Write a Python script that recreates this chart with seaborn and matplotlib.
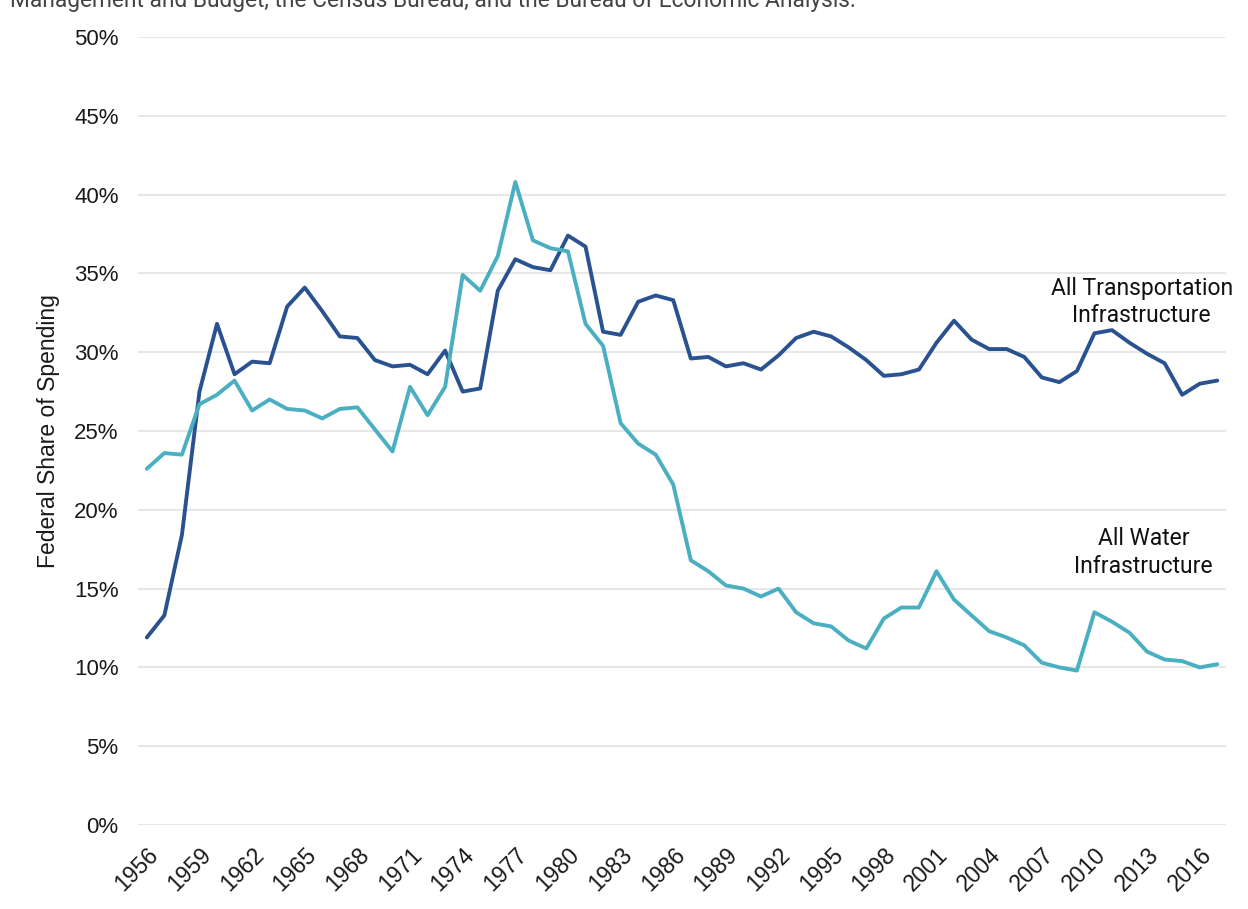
import pandas as pd
import matplotlib.pyplot as plt
import seaborn as sns

# Federal share of infrastructure spending, 1956-2017 (percent)
years = list(range(1956, 2018))
transport = [11.9, 13.3, 18.4, 27.5, 31.8, 28.6, 29.4, 29.3, 32.9, 34.1,
             32.6, 31.0, 30.9, 29.5, 29.1, 29.2, 28.6, 30.1, 27.5, 27.7,
             33.9, 35.9, 35.4, 35.2, 37.4, 36.7, 31.3, 31.1, 33.2, 33.6,
             33.3, 29.6, 29.7, 29.1, 29.3, 28.9, 29.8, 30.9, 31.3, 31.0,
             30.3, 29.5, 28.5, 28.6, 28.9, 30.6, 32.0, 30.8, 30.2, 30.2,
             29.7, 28.4, 28.1, 28.8, 31.2, 31.4, 30.6, 29.9, 29.3, 27.3,
             28.0, 28.2]
water = [22.6, 23.6, 23.5, 26.7, 27.3, 28.2, 26.3, 27.0, 26.4, 26.3,
         25.8, 26.4, 26.5, 25.1, 23.7, 27.8, 26.0, 27.8, 34.9, 33.9,
         36.1, 40.8, 37.1, 36.6, 36.4, 31.8, 30.4, 25.5, 24.2, 23.5,
         21.6, 16.8, 16.1, 15.2, 15.0, 14.5, 15.0, 13.5, 12.8, 12.6,
         11.7, 11.2, 13.1, 13.8, 13.8, 16.1, 14.3, 13.3, 12.3, 11.9,
         11.4, 10.3, 10.0, 9.8, 13.5, 12.9, 12.2, 11.0, 10.5, 10.4,
         10.0, 10.2]
series_names = ["All Transportation Infrastructure", "All Water Infrastructure"]
tick_years = list(range(1956, 2017, 3))
y_ticks = list(range(0, 51, 5))

df = pd.DataFrame({
    "year": years * 2,
    "share": transport + water,
    "series": [series_names[0]] * len(years) + [series_names[1]] * len(years),
})

sns.set_style("white")
plt.rcParams["font.family"] = ["Liberation Sans", "DejaVu Sans"]

fig = plt.figure(figsize=(12.48, 9.09), dpi=100)
ax = fig.add_axes([0.1106, 0.0924, 0.8718, 0.8669])

palette = {series_names[0]: "#2B5290", series_names[1]: "#4BAFC2"}
sns.lineplot(data=df, x="year", y="share", hue="series", palette=palette,
             linewidth=2.8, legend=False, ax=ax)

ax.set_xlim(1955.5, 2017.5)
ax.set_ylim(0, 50)
ax.set_yticks(y_ticks)
ax.set_yticklabels([f"{v}%" for v in y_ticks], fontsize=16, color="#1a1a1a")
ax.set_xticks(tick_years)
ax.set_xticklabels([str(y) for y in tick_years], rotation=45, ha="right",
                   rotation_mode="anchor", fontsize=16.5, color="#1a1a1a")
ax.tick_params(axis="x", length=0, pad=13)
ax.tick_params(axis="y", length=0, pad=14)
ax.yaxis.grid(True, color="#e3e3e3", linewidth=1.2)
ax.xaxis.grid(False)
for s in ax.spines.values():
    s.set_visible(False)

ax.set_xlabel("")
ax.set_ylabel("Federal Share of Spending", fontsize=16.5, labelpad=10,
              color="#1a1a1a")

ax.text(2012.7, 33.2, "All Transportation\nInfrastructure", ha="center",
        va="center", fontsize=16.5, color="#111111", family="Roboto",
        linespacing=1.25)
ax.text(2012.8, 17.3, "All Water\nInfrastructure", ha="center",
        va="center", fontsize=16.5, color="#111111", family="Roboto",
        linespacing=1.25)

fig.text(0.008, 1.0, "Management and Budget, the Census Bureau, and the Bureau of Economic Analysis.",
         ha="left", va="center", fontsize=16.4, color="#444444", family="Roboto")

fig.savefig("out.png", dpi=100)
